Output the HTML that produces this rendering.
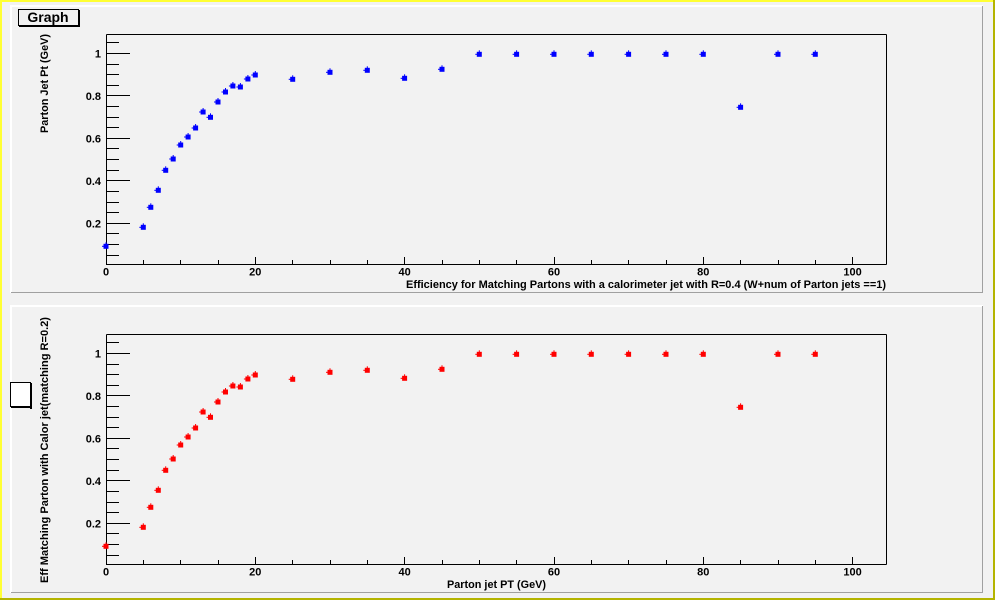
<!DOCTYPE html>
<html><head><meta charset="utf-8"><style>
html,body{margin:0;padding:0;background:#f2f2f2;}
svg{display:block;}
text{font-family:"Liberation Sans",Arial,sans-serif;font-weight:bold;fill:#000;}
</style></head><body>
<svg width="995" height="600" viewBox="0 0 995 600" xmlns="http://www.w3.org/2000/svg">
<defs>
<g id="mk">
<rect x="-2.5" y="-2.5" width="5" height="5"/>
<rect x="-4" y="-0.5" width="2" height="1"/>
<rect x="-0.5" y="-4" width="1" height="2"/>
</g>
<g id="pts">
<use href="#mk" x="106" y="246.3"/>
<use href="#mk" x="143.3" y="227.3"/>
<use href="#mk" x="150.8" y="207.3"/>
<use href="#mk" x="158.3" y="190.3"/>
<use href="#mk" x="165.7" y="170.3"/>
<use href="#mk" x="173.2" y="159"/>
<use href="#mk" x="180.7" y="145"/>
<use href="#mk" x="188.1" y="137"/>
<use href="#mk" x="195.6" y="128"/>
<use href="#mk" x="203.1" y="112"/>
<use href="#mk" x="210.5" y="117.3"/>
<use href="#mk" x="218" y="102"/>
<use href="#mk" x="225.5" y="92"/>
<use href="#mk" x="232.9" y="86"/>
<use href="#mk" x="240.4" y="87"/>
<use href="#mk" x="247.9" y="79"/>
<use href="#mk" x="255.3" y="75"/>
<use href="#mk" x="292.7" y="79.3"/>
<use href="#mk" x="330" y="72.3"/>
<use href="#mk" x="367.3" y="70.3"/>
<use href="#mk" x="404.6" y="78.3"/>
<use href="#mk" x="442" y="69.3"/>
<use href="#mk" x="479.3" y="54.3"/>
<use href="#mk" x="516.6" y="54.3"/>
<use href="#mk" x="554" y="54.3"/>
<use href="#mk" x="591.3" y="54.3"/>
<use href="#mk" x="628.6" y="54.3"/>
<use href="#mk" x="666" y="54.3"/>
<use href="#mk" x="703.3" y="54.3"/>
<use href="#mk" x="740.6" y="107.3"/>
<use href="#mk" x="778" y="54.3"/>
<use href="#mk" x="815.3" y="54.3"/>
</g>
<g id="axes" stroke="#000" stroke-width="1" shape-rendering="crispEdges" fill="none">
<!-- frame -->
<line x1="106.5" y1="34.5" x2="886.5" y2="34.5"/>
<line x1="886.5" y1="34.5" x2="886.5" y2="264.5"/>
<line x1="106.5" y1="34.5" x2="106.5" y2="265"/>
<line x1="106" y1="264.5" x2="886.5" y2="264.5"/>
<!-- y ticks -->
<line x1="106" y1="42.5" x2="119" y2="42.5"/>
<line x1="106" y1="53.5" x2="130" y2="53.5"/>
<line x1="106" y1="64.5" x2="119" y2="64.5"/>
<line x1="106" y1="74.5" x2="119" y2="74.5"/>
<line x1="106" y1="85.5" x2="119" y2="85.5"/>
<line x1="106" y1="95.5" x2="130" y2="95.5"/>
<line x1="106" y1="106.5" x2="119" y2="106.5"/>
<line x1="106" y1="117.5" x2="119" y2="117.5"/>
<line x1="106" y1="127.5" x2="119" y2="127.5"/>
<line x1="106" y1="138.5" x2="130" y2="138.5"/>
<line x1="106" y1="148.5" x2="119" y2="148.5"/>
<line x1="106" y1="159.5" x2="119" y2="159.5"/>
<line x1="106" y1="170.5" x2="119" y2="170.5"/>
<line x1="106" y1="180.5" x2="130" y2="180.5"/>
<line x1="106" y1="191.5" x2="119" y2="191.5"/>
<line x1="106" y1="202.5" x2="119" y2="202.5"/>
<line x1="106" y1="212.5" x2="119" y2="212.5"/>
<line x1="106" y1="223.5" x2="130" y2="223.5"/>
<line x1="106" y1="233.5" x2="119" y2="233.5"/>
<line x1="106" y1="244.5" x2="119" y2="244.5"/>
<line x1="106" y1="255.5" x2="119" y2="255.5"/>
<!-- x ticks -->
<line x1="106.5" y1="257" x2="106.5" y2="265"/>
<line x1="143.5" y1="260" x2="143.5" y2="265"/>
<line x1="180.5" y1="260" x2="180.5" y2="265"/>
<line x1="218.5" y1="260" x2="218.5" y2="265"/>
<line x1="255.5" y1="257" x2="255.5" y2="265"/>
<line x1="292.5" y1="260" x2="292.5" y2="265"/>
<line x1="330.5" y1="260" x2="330.5" y2="265"/>
<line x1="367.5" y1="260" x2="367.5" y2="265"/>
<line x1="404.5" y1="257" x2="404.5" y2="265"/>
<line x1="442.5" y1="260" x2="442.5" y2="265"/>
<line x1="479.5" y1="260" x2="479.5" y2="265"/>
<line x1="516.5" y1="260" x2="516.5" y2="265"/>
<line x1="554.5" y1="257" x2="554.5" y2="265"/>
<line x1="591.5" y1="260" x2="591.5" y2="265"/>
<line x1="628.5" y1="260" x2="628.5" y2="265"/>
<line x1="666.5" y1="260" x2="666.5" y2="265"/>
<line x1="703.5" y1="257" x2="703.5" y2="265"/>
<line x1="740.5" y1="260" x2="740.5" y2="265"/>
<line x1="778.5" y1="260" x2="778.5" y2="265"/>
<line x1="815.5" y1="260" x2="815.5" y2="265"/>
<line x1="852.5" y1="257" x2="852.5" y2="265"/>
</g>
</defs>

<!-- canvas border -->
<rect x="0" y="0" width="995" height="600" fill="#f2f2f2"/>
<rect x="0" y="0" width="995" height="2" fill="#ffff33"/>
<rect x="0" y="0" width="2" height="600" fill="#ffff33"/>
<rect x="993" y="0" width="2" height="600" fill="#b4b400"/>
<rect x="0" y="598" width="995" height="2" fill="#b4b400"/>

<!-- top pad -->
<g shape-rendering="crispEdges">
<rect x="10" y="5" width="973" height="2" fill="#ffffff"/>
<rect x="10" y="5" width="2" height="288" fill="#ffffff"/>
<rect x="982" y="6" width="1" height="287" fill="#a0a0a0"/>
<rect x="11" y="292" width="972" height="1" fill="#a0a0a0"/>
<!-- bottom pad -->
<rect x="10" y="305" width="973" height="2" fill="#ffffff"/>
<rect x="10" y="305" width="2" height="288" fill="#ffffff"/>
<rect x="982" y="306" width="1" height="287" fill="#a0a0a0"/>
<rect x="11" y="592" width="972" height="1" fill="#a0a0a0"/>
</g>

<!-- top plot -->
<use href="#axes"/>
<use href="#pts" fill="#0000ff"/>
<g font-size="11" text-anchor="end">
<text x="101" y="57.5">1</text>
<text x="101" y="100">0.8</text>
<text x="101" y="142.5">0.6</text>
<text x="101" y="185">0.4</text>
<text x="101" y="227.5">0.2</text>
</g>
<g font-size="11" text-anchor="middle">
<text x="106" y="275.5">0</text>
<text x="255.3" y="275.5">20</text>
<text x="404.6" y="275.5">40</text>
<text x="554" y="275.5">60</text>
<text x="703.3" y="275.5">80</text>
<text x="852.6" y="275.5">100</text>
</g>
<text x="886" y="288" font-size="11" text-anchor="end" textLength="480" lengthAdjust="spacingAndGlyphs">Efficiency for Matching Partons with a calorimeter jet with R=0.4 (W+num of Parton jets ==1)</text>
<text transform="translate(48,34) rotate(-90)" font-size="11" text-anchor="end" textLength="99" lengthAdjust="spacingAndGlyphs">Parton Jet Pt (GeV)</text>

<!-- title box -->
<rect x="18.5" y="9.5" width="60" height="16" fill="#f2f2f2" stroke="#000" stroke-width="1" shape-rendering="crispEdges"/>
<rect x="78" y="10" width="2" height="17" fill="#000"/>
<rect x="19" y="25" width="61" height="2" fill="#000"/>
<text x="48" y="22" font-size="14" text-anchor="middle">Graph</text>

<!-- bottom plot -->
<g transform="translate(0,300)">
<use href="#axes"/>
<use href="#pts" fill="#ff0000"/>
<g font-size="11" text-anchor="end">
<text x="101" y="57.5">1</text>
<text x="101" y="100">0.8</text>
<text x="101" y="142.5">0.6</text>
<text x="101" y="185">0.4</text>
<text x="101" y="227.5">0.2</text>
</g>
<g font-size="11" text-anchor="middle">
<text x="106" y="275.5">0</text>
<text x="255.3" y="275.5">20</text>
<text x="404.6" y="275.5">40</text>
<text x="554" y="275.5">60</text>
<text x="703.3" y="275.5">80</text>
<text x="852.6" y="275.5">100</text>
</g>
</g>
<text x="447" y="588" font-size="11" text-anchor="start" textLength="99" lengthAdjust="spacingAndGlyphs">Parton jet PT (GeV)</text>
<text transform="translate(48,317) rotate(-90)" font-size="11" text-anchor="end" textLength="266" lengthAdjust="spacingAndGlyphs">Eff Matching Parton with Calor jet(matching R=0.2)</text>

<!-- legend box -->
<rect x="10.5" y="382.5" width="20" height="24" fill="#ffffff" stroke="#000" stroke-width="1" shape-rendering="crispEdges"/>
<rect x="30" y="383" width="2" height="26" fill="#000"/>
<rect x="11" y="406" width="21" height="2" fill="#000"/>
</svg>
</body></html>
